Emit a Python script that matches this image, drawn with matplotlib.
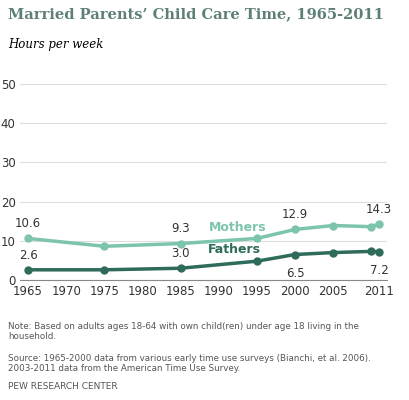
import matplotlib.pyplot as plt

years = [1965, 1975, 1985, 1995, 2000, 2005, 2010, 2011]
mothers = [10.6, 8.6, 9.3, 10.6, 12.9, 13.9, 13.6, 14.3]
fathers = [2.6, 2.6, 3.0, 4.8, 6.5, 7.0, 7.3, 7.2]
xticks = [1965, 1970, 1975, 1980, 1985, 1990, 1995, 2000, 2005, 2011]

mcol = "#7cc4ad"
fcol = "#2e6b5a"

fig = plt.figure(figsize=(4.09, 4.0), dpi=100)
ax = fig.add_axes([0.05, 0.30, 0.895, 0.49])

ax.plot(years, mothers, color=mcol, lw=2.5, marker="o", ms=5)
ax.plot(years, fathers, color=fcol, lw=2.5, marker="o", ms=5)

ax.set_xlim(1964, 2012)
ax.set_ylim(0, 50)
ax.set_yticks([0, 10, 20, 30, 40, 50])
ax.set_xticks(xticks)
ax.tick_params(labelsize=8.5, length=0, colors="#333333")
ax.grid(axis="y", color="#dddddd", lw=0.8)
ax.set_axisbelow(True)
for s in ["top", "right", "left"]:
    ax.spines[s].set_visible(False)
ax.spines["bottom"].set_color("#888888")

for i in [0, 2, 4, 7]:
    ax.annotate(f"{mothers[i]:.1f}", (years[i], mothers[i]), xytext=(0, 8),
                textcoords="offset points", ha="center", fontsize=8.5, color="#333333")
for i, off in [(0, 8), (2, 8), (4, -16), (7, -16)]:
    ax.annotate(f"{fathers[i]:.1f}", (years[i], fathers[i]), xytext=(0, off),
                textcoords="offset points", ha="center", fontsize=8.5, color="#333333")
ax.text(1992.5, 12.5, "Mothers", color=mcol, fontsize=9, fontweight="bold", ha="center")
ax.text(1992, 6.8, "Fathers", color=fcol, fontsize=9, fontweight="bold", ha="center")

fig.text(0.02, 0.955, "Married Parents\u2019 Child Care Time, 1965-2011", fontsize=10.5,
         fontweight="bold", color="#5d7f78", family="DejaVu Serif")
fig.text(0.02, 0.88, "Hours per week", fontsize=8.5, style="italic", family="DejaVu Serif")
fig.text(0.02, 0.195, "Note: Based on adults ages 18-64 with own child(ren) under age 18 living in the\nhousehold.",
         fontsize=6.3, color="#555555", va="top")
fig.text(0.02, 0.115, "Source: 1965-2000 data from various early time use surveys (Bianchi, et al. 2006).\n2003-2011 data from the American Time Use Survey.",
         fontsize=6.3, color="#555555", va="top")
fig.text(0.02, 0.045, "PEW RESEARCH CENTER", fontsize=6.5, color="#555555", va="top")

fig.savefig("out.png", dpi=100)
